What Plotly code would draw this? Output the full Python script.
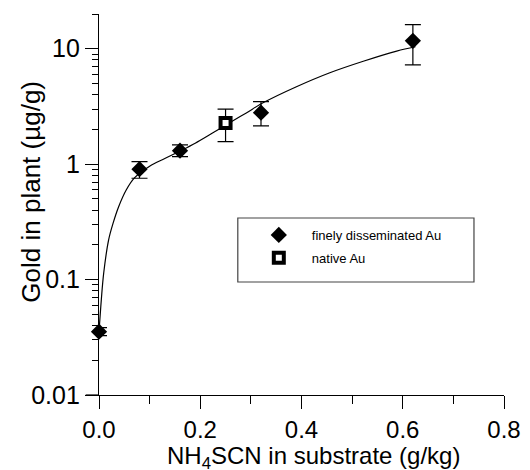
import plotly.graph_objects as go

# --- data ---
fine_x = [0.0, 0.08, 0.16, 0.32, 0.62]
fine_y = [0.0354, 0.905, 1.31, 2.79, 11.7]
fine_err_plus = [0.0029, 0.145, 0.16, 0.69, 4.5]
fine_err_minus = [0.0027, 0.15, 0.15, 0.64, 4.44]

native_x = [0.25]
native_y = [2.27]
native_err_plus = [0.73]
native_err_minus = [0.70]

fit_x = [0.0, 0.0046, 0.0093, 0.019, 0.028, 0.039, 0.054, 0.07, 0.1, 0.13,
         0.16, 0.19, 0.225, 0.258, 0.291, 0.324, 0.39, 0.456, 0.522, 0.588, 0.625]
fit_y = [0.035, 0.067, 0.114, 0.221, 0.31, 0.43, 0.60, 0.76, 0.96, 1.12,
         1.30, 1.52, 1.87, 2.28, 2.78, 3.4, 4.69, 6.2, 7.8, 9.55, 10.4]

x_tickvals = [0, 0.2, 0.4, 0.6, 0.8]
x_ticktext = ["0.0", "0.2", "0.4", "0.6", "0.8"]
x_minor = [0.1, 0.3, 0.5, 0.7]
y_tickvals = [0.01, 0.1, 1, 10]
y_ticktext = ["0.01", "0.1", "1", "10"]
y_minor = [m * d for d in [0.01, 0.1, 1] for m in range(2, 10)] + [20]

FONT = "Arial, Liberation Sans, sans-serif"

fig = go.Figure()

fig.add_trace(go.Scatter(
    x=fit_x, y=fit_y, mode="lines", line=dict(color="black", width=1.2, shape="spline"),
    showlegend=False, hoverinfo="skip", cliponaxis=False))

fig.add_trace(go.Scatter(
    x=fine_x, y=fine_y, mode="markers", name="finely disseminated Au",
    legendgroup="a",
    marker=dict(symbol="diamond", size=12.5, color="black"),
    error_y=dict(type="data", array=fine_err_plus, arrayminus=fine_err_minus,
                 color="black", thickness=1.2, width=8),
    cliponaxis=False))

fig.add_trace(go.Scatter(
    x=native_x, y=native_y, mode="markers", name="native Au",
    legendgroup="b",
    marker=dict(symbol="square", size=10, color="white", line=dict(color="black", width=4)),
    error_y=dict(type="data", array=native_err_plus, arrayminus=native_err_minus,
                 color="black", thickness=1.2, width=8),
    cliponaxis=False))

PW = 404.7
PH = 381.0
def px_x(p):
    return (p - 99.3) / PW
def px_y(p):
    return (395 - p) / PH

fig.update_layout(
    width=530, height=470,
    margin=dict(l=99, r=26, t=14, b=75, pad=0, autoexpand=False),
    paper_bgcolor="white", plot_bgcolor="white",
    font=dict(family=FONT, color="black"),
    showlegend=True,
    legend=dict(
        x=px_x(246), y=px_y(220), xanchor="left", yanchor="top",
        bgcolor="rgba(0,0,0,0)", borderwidth=0,
        font=dict(size=13, family=FONT), itemwidth=56,
        tracegroupgap=3, traceorder="grouped",
    ),
    xaxis=dict(
        range=[0, 0.8], showgrid=False, zeroline=False, automargin=False,
        showline=True, linecolor="black", linewidth=1.2,
        ticks="outside", ticklen=13, tickwidth=1.2, tickcolor="black",
        tickvals=x_tickvals, ticktext=x_ticktext,
        tickfont=dict(size=24, family=FONT),
        minor=dict(ticks="outside", ticklen=8, tickwidth=1.2, tickcolor="black",
                   tickvals=x_minor),
        mirror=False,
    ),
    yaxis=dict(
        type="log", range=[-2, 1.30103], showgrid=False, zeroline=False, automargin=False,
        showline=True, linecolor="black", linewidth=1.2,
        ticks="outside", ticklen=13, tickwidth=1.2, tickcolor="black",
        tickvals=y_tickvals, ticktext=y_ticktext,
        tickfont=dict(size=25, family=FONT),
        minor=dict(ticks="outside", ticklen=6, tickwidth=1, tickcolor="black",
                   tickvals=y_minor),
        mirror=False,
    ),
    shapes=[
        dict(type="rect", xref="paper", yref="paper",
             x0=px_x(238), x1=px_x(474), y0=px_y(282), y1=px_y(218),
             line=dict(color="#444", width=1.2), fillcolor="rgba(0,0,0,0)", layer="below"),
        dict(type="line", xref="paper", yref="paper",
             x0=px_x(86), x1=0, y0=0, y1=0,
             line=dict(color="black", width=1.2)),
    ],
    annotations=[
        dict(text="Gold in plant (µg/g)", xref="paper", yref="paper",
             x=px_x(31), y=px_y(192), xanchor="center", yanchor="middle",
             textangle=-90, showarrow=False, font=dict(size=26, family=FONT)),
        dict(text="NH<sub>4</sub>SCN in substrate (g/kg)", xref="paper", yref="paper",
             x=px_x(314), y=px_y(457), xanchor="center", yanchor="middle",
             showarrow=False, font=dict(size=24, family=FONT)),
    ],
)

fig.write_html("out.html", config={"displayModeBar": False},
               post_script="document.body.style.margin='0';")
